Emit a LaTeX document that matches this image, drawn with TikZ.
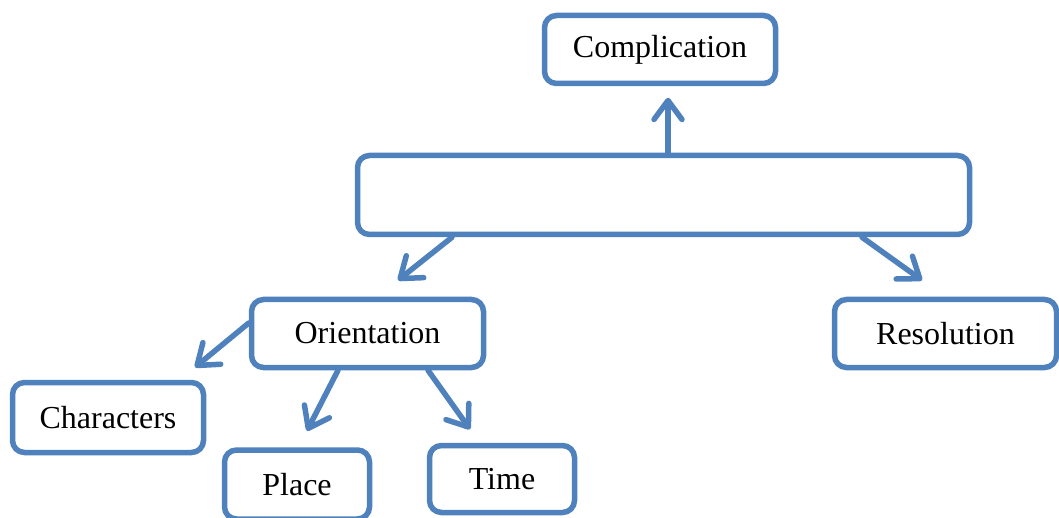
\documentclass[tikz,border=0pt]{standalone}
\usepackage{fontspec}
\setmainfont{Liberation Serif}
\usetikzlibrary{arrows.meta}
\definecolor{boxblue}{HTML}{4F81BD}
\begin{document}
\begin{tikzpicture}[x=1pt,y=-1pt,
  box/.style={draw=boxblue, line width=5.5pt, rounded corners=12pt, fill=white,
    inner sep=0pt, font=\fontsize{32}{38}\selectfont},
  conn/.style={draw=boxblue, line width=5.5pt, line cap=round,
    -{Straight Barb[length=19pt,width=28pt,line cap=round,line join=round]}}]
\useasboundingbox (0,0) rectangle (1059,518);
\node[box, minimum width=231pt, minimum height=68pt] (comp) at (660,49.5) {Complication};
\node[box, minimum width=612pt, minimum height=79pt] (big) at (663.5,195) {};
\node[box, minimum width=232pt, minimum height=68pt] (orient) at (367.5,333.5) {Orientation};
\node[box, minimum width=222pt, minimum height=68pt] (resol) at (945.5,333.5) {Resolution};
\node[box, minimum width=191pt, minimum height=70pt] (char) at (108,417.5) {Characters};
\node[box, minimum width=145pt, minimum height=69pt] (place) at (297,484.5) {Place};
\node[box, minimum width=145pt, minimum height=67pt] (time) at (502,479) {Time};
\draw[conn] ([xshift=4.5pt]big.north) -- ([xshift=8pt,yshift=-11.5pt]comp.south);
\draw[conn] ([xshift=-211.5pt]big.south) -- ([xshift=30.5pt,yshift=16.5pt]orient.north);
\draw[conn] ([xshift=198.5pt]big.south) -- ([xshift=-23.5pt,yshift=16.5pt]resol.north);
\draw[conn] ([yshift=10.5pt]orient.west) -- ([xshift=87pt,yshift=12.5pt]char.north);
\draw[conn] ([xshift=-29.5pt]orient.south) -- ([xshift=10pt,yshift=16.5pt]place.north);
\draw[conn] ([xshift=60.5pt]orient.south) -- ([xshift=-32pt,yshift=13.5pt]time.north);
\end{tikzpicture}
\end{document}
